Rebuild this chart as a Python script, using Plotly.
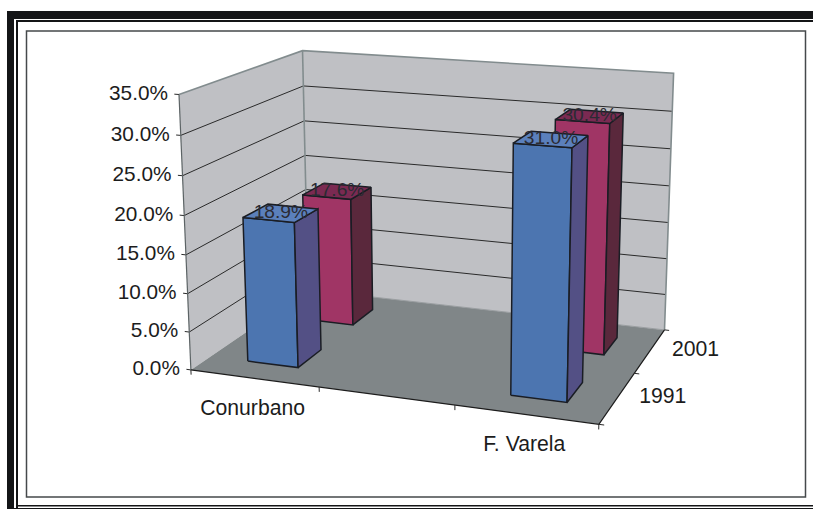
import numpy as np
import plotly.graph_objects as go

categories = ["Conurbano", "", "F. Varela"]
series_names = ["1991", "2001"]
values_1991 = [18.9, None, 31.0]
values_2001 = [17.6, None, 30.4]
value_ticks = [0, 5, 10, 15, 20, 25, 30, 35]
value_labels = ["0.0%", "5.0%", "10.0%", "15.0%", "20.0%", "25.0%", "30.0%", "35.0%"]

VMAX = 35.0
# perspective camera of the 3-D box, fitted on its visible corners
corners = [
    ((0, 0, 0), (190, 370)), ((1, 0, 0), (599.3, 423.7)),
    ((0, 1, 0), (309, 289.4)), ((1, 1, 0), (664, 330.7)),
    ((0, 0, 1), (179.5, 95)), ((0, 1, 1), (302, 50.5)),
    ((1, 1, 1), (673.7, 73)),
]
A, b = [], []
for (u, v, w), (x, y) in corners:
    A.append([u, v, w, 1, 0, 0, 0, 0, -x*u, -x*v, -x*w]); b.append(x)
    A.append([0, 0, 0, 0, u, v, w, 1, -y*u, -y*v, -y*w]); b.append(y)
P = np.append(np.linalg.lstsq(np.array(A, float), np.array(b, float), rcond=None)[0], 1).reshape(3, 4)


def proj(u, v, w):
    h = P @ np.array([u, v, w, 1.0])
    return h[0]/h[2], h[1]/h[2]


fig = go.Figure()
FONT = "Liberation Sans, Arial, sans-serif"


def poly(pts, fill=None, line=None, width=1.0):
    xy = [proj(*p) for p in pts]
    xs = [a for a, _ in xy]
    ys = [c for _, c in xy]
    if fill:
        xs.append(xs[0]); ys.append(ys[0])
    fig.add_trace(go.Scatter(
        x=xs, y=ys, mode="lines", hoverinfo="skip", showlegend=False,
        fill="toself" if fill else None, fillcolor=fill,
        line=dict(color=line or "rgba(0,0,0,0)", width=width if line else 0)))


def label(x, y, text, size=21.2, pos="middle center", color="#1c1c1c"):
    fig.add_trace(go.Scatter(
        x=[x], y=[y], mode="text", text=[text], textposition=pos, hoverinfo="skip",
        showlegend=False, textfont=dict(family=FONT, size=size, color=color)))


WALL, FLOOR, EDGE, GRID = "#BFC0C4", "#808688", "#828C8E", "#2a2a2a"
poly([(0, 0, 0), (0, 1, 0), (0, 1, 1), (0, 0, 1)], fill=WALL)
poly([(0, 1, 0), (1, 1, 0), (1, 1, 1), (0, 1, 1)], fill=WALL)
poly([(0, 0, 0), (1, 0, 0), (1, 1, 0), (0, 1, 0)], fill=FLOOR)

for t in value_ticks[1:-1]:
    w = t/VMAX
    poly([(-0.012, 0, w), (0, 0, w), (0, 1, w), (1, 1, w)], line=GRID, width=1)
poly([(-0.012, 0, 0), (0, 0, 0)], line=GRID, width=1)
poly([(-0.012, 0, 1), (0, 0, 1)], line=GRID, width=1)
poly([(0, 0, 1), (0, 1, 1), (1, 1, 1), (1, 1, 0)], line=EDGE, width=1.6)
poly([(0, 1, 1), (0, 1, 0)], line=EDGE, width=1.6)
poly([(0, 0, 0), (0, 0, 1)], line="#5c6365", width=1.2)
poly([(0, 1, 0), (1, 1, 0)], line="#9a9ea1", width=1)
poly([(0, 0, 0), (1, 0, 0), (1, 1, 0)], line="#1c1c1c", width=1.2)
for i in range(len(categories) + 1):
    poly([(i/3, 0, 0), (i/3, 0, -0.018)], line=GRID, width=1)
for j in range(len(series_names) + 1):
    poly([(1, j/2, 0), (1.012, j/2, 0)], line=GRID, width=1)

OUT = "#1a1d24"
series = [
    (1, values_2001, "#A03565", "#5A283C", "#7B2A52"),
    (0, values_1991, "#4C75B0", "#535085", "#5B80BC"),
]
for j, vals, front, side, top in series:
    v0, v1 = (j + 0.3)/2, (j + 0.7)/2
    for i, val in enumerate(vals):
        if val is None:
            continue
        u0, u1 = (i + 0.3)/3, (i + 0.7)/3
        h = val/VMAX
        poly([(u0, v0, 0), (u1, v0, 0), (u1, v0, h), (u0, v0, h)], fill=front, line=OUT, width=1.5)
        poly([(u1, v0, 0), (u1, v1, 0), (u1, v1, h), (u1, v0, h)], fill=side, line=OUT, width=1.5)
        poly([(u0, v0, h), (u1, v0, h), (u1, v1, h), (u0, v1, h)], fill=top, line=OUT, width=1.5)

for j, vals, *_ in series:
    for i, val in enumerate(vals):
        if val is None:
            continue
        x, y = proj((i + 0.5)/3, (j + 0.5)/2, val/VMAX)
        label(x, y, f"{val:.1f}%", size=19.2, color="#2b2b33")

for t, s in zip(value_ticks, value_labels):
    x, y = proj(0, 0, t/VMAX)
    label(x - 11, y, s, size=20.8, pos="middle left")
for i, c in enumerate(categories):
    if c:
        x, y = proj((i + 0.5)/3, 0, 0)
        label(x - 1.5, y + 31, c)
for j, s in enumerate(series_names):
    x, y = proj(1, (j + 0.5)/2, 0)
    label(x + 45.5, y, s)

K = "#141517"
def rect(x0, y0, x1, y1, fill=None, line=None, width=0):
    return dict(type="rect", xref="x", yref="y", x0=x0, y0=y0, x1=x1, y1=y1, layer="below",
                fillcolor=fill or "rgba(0,0,0,0)", line=dict(color=line or "rgba(0,0,0,0)", width=width))

shapes = [
    rect(7, 11, 813, 19, fill=K), rect(7, 11, 14, 509, fill=K),
    rect(16, 20, 813, 22, fill=K), rect(16, 20, 18, 509, fill=K),
    rect(16, 505, 813, 506.5, fill=K), rect(14, 508, 813, 509, fill=K),
    rect(26.5, 31, 805.5, 497, fill="#FFFFFF", line="#45494b", width=1.5),
]
fig.update_layout(
    width=813, height=509, margin=dict(l=0, r=0, t=0, b=0), showlegend=False,
    paper_bgcolor="#FFFFFF", plot_bgcolor="#FFFFFF", shapes=shapes,
    xaxis=dict(range=[0, 813], visible=False, fixedrange=True),
    yaxis=dict(range=[509, 0], visible=False, fixedrange=True),
)
fig.write_html("out.html", config={"displayModeBar": False},
               post_script="document.body.style.margin='0';")
